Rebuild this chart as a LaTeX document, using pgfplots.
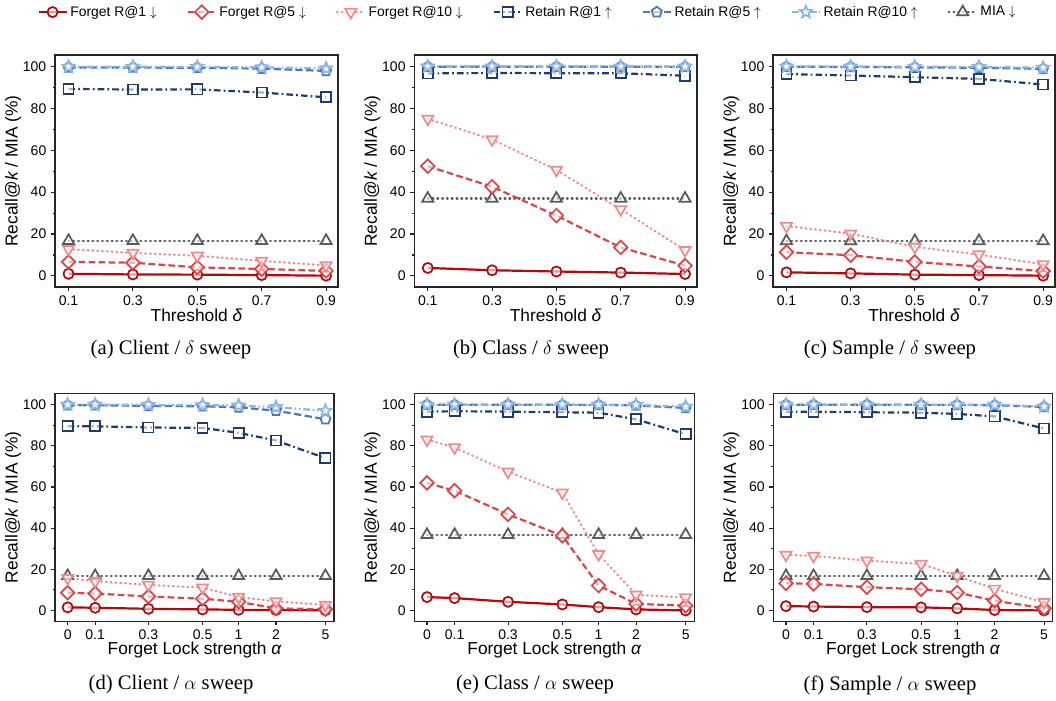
\documentclass[border=0pt]{standalone}
\usepackage{fontspec}
\setmainfont{Liberation Sans}
\newfontfamily\capfont{Liberation Serif}
\usepackage{pgfplots}
\usepackage{pgfplotstable}
\pgfplotsset{compat=1.18}
\usetikzlibrary{plotmarks}

\definecolor{cFa}{HTML}{B00A0A}
\definecolor{cFb}{HTML}{D9474A}
\definecolor{cFc}{HTML}{F28A8A}
\definecolor{cRa}{HTML}{1E3A70}
\definecolor{cRb}{HTML}{4A76B8}
\definecolor{cRc}{HTML}{8DB5E6}
\definecolor{cM}{HTML}{5A5A5A}

\pgfdeclareplotmark{fstar}{%
  \pgfpathmoveto{\pgfpointpolar{90}{\pgfplotmarksize}}%
  \pgfpathlineto{\pgfpointpolar{126}{0.45\pgfplotmarksize}}%
  \pgfpathlineto{\pgfpointpolar{162}{\pgfplotmarksize}}%
  \pgfpathlineto{\pgfpointpolar{198}{0.45\pgfplotmarksize}}%
  \pgfpathlineto{\pgfpointpolar{234}{\pgfplotmarksize}}%
  \pgfpathlineto{\pgfpointpolar{270}{0.45\pgfplotmarksize}}%
  \pgfpathlineto{\pgfpointpolar{306}{\pgfplotmarksize}}%
  \pgfpathlineto{\pgfpointpolar{342}{0.45\pgfplotmarksize}}%
  \pgfpathlineto{\pgfpointpolar{18}{\pgfplotmarksize}}%
  \pgfpathlineto{\pgfpointpolar{54}{0.45\pgfplotmarksize}}%
  \pgfpathclose\pgfusepathqfillstroke}

% top row: delta = 0.1 .. 0.9
\pgfplotstableread{
x   fa   fb   fc   ra   rb   rc    mia
0.1 1.0  6.7  12.8 89.3 99.5 99.9  16.8
0.3 0.7  6.3  11.0 89.0 99.5 99.9  16.8
0.5 0.6  4.1  9.6  89.1 99.4 99.8  16.8
0.7 0.4  3.3  7.2  87.6 99.0 99.6  16.8
0.9 0.1  2.4  5.0  85.3 97.9 99.1  16.8
}\tabA
\pgfplotstableread{
x   fa   fb   fc   ra   rb   rc    mia
0.1 3.8  52.4 75.0 96.7 99.9 100.0 37.0
0.3 2.7  42.6 65.2 96.9 99.9 100.0 37.0
0.5 2.1  28.8 50.6 96.8 99.9 100.0 37.0
0.7 1.6  13.6 31.8 96.8 99.9 100.0 37.0
0.9 0.9  4.9  12.3 95.6 99.8 100.0 37.0
}\tabB
\pgfplotstableread{
x   fa   fb   fc   ra   rb   rc    mia
0.1 1.7  11.3 23.8 96.4 99.9 100.0 16.7
0.3 1.2  9.9  20.2 95.7 99.8 100.0 16.7
0.5 0.6  6.7  13.9 94.9 99.6 99.9  16.7
0.7 0.4  4.5  10.2 94.1 99.4 99.8  16.7
0.9 0.1  2.3  5.5  91.4 98.9 99.4  16.7
}\tabC
% bottom row: alpha = 0, 0.1, 0.3, 0.5, 1, 2, 5 (plotted at tick positions)
\pgfplotstableread{
x    fa   fb   fc   ra   rb   rc    mia
0    1.5  8.6  15.7 89.5 99.7 100.0 16.8
0.64 1.3  8.2  14.2 89.5 99.7 100.0 16.8
1.88 0.8  6.8  12.4 88.9 99.4 99.9  16.8
3.14 0.5  5.7  11.1 88.7 99.2 99.8  16.8
3.98 0.3  4.2  6.5  86.3 98.7 99.6  16.8
4.85 0.2  1.0  4.4  82.6 97.1 98.8  16.8
6    0.1  0.6  2.7  74.0 92.9 97.0  16.8
}\tabD
\pgfplotstableread{
x    fa   fb   fc   ra   rb    rc    mia
0    6.5  62.0 83.0 96.6 100.0 100.0 36.8
0.64 6.0  58.2 79.2 96.8 100.0 100.0 36.8
1.88 4.2  46.7 67.4 96.6 100.0 100.0 36.8
3.14 2.9  36.3 57.2 96.3 99.9  100.0 36.8
3.98 1.6  12.1 27.3 96.1 99.9  100.0 36.8
4.85 0.5  3.2  7.6  92.9 99.6  99.9  36.8
6    0.0  2.3  6.3  85.6 98.4  99.0  36.8
}\tabE
\pgfplotstableread{
x    fa   fb   fc   ra   rb    rc    mia
0    2.1  13.2 27.0 96.6 100.0 100.0 16.8
0.64 1.9  12.9 26.5 96.6 100.0 100.0 16.8
1.88 1.6  11.3 24.2 96.3 100.0 100.0 16.8
3.14 1.5  10.3 22.6 96.1 99.9  100.0 16.8
3.98 1.0  8.7  16.8 95.5 99.9  100.0 16.8
4.85 0.2  4.7  10.5 94.3 99.7  99.9  16.8
6    0.0  1.1  4.0  88.4 98.9  99.1  16.8
}\tabF

\pgfplotsset{
  panel/.style={
    scale only axis, anchor=north west,
    ymin=-5.3, ymax=105.5, ytick={0,20,40,60,80,100}, minor y tick num=1,
    tick align=outside, tick pos=left,
    major tick length=3pt, minor tick length=1.8pt,
    axis line style={black!85, line width=0.9pt},
    every tick/.style={black!85, line width=0.8pt},
    tick label style={font=\fontsize{10.5}{12}\selectfont},
    label style={font=\fontsize{13}{15}\selectfont},
    /pgf/number format/assume math mode=true,
    ylabel={Recall@{\itshape k} / MIA (\%)},
  },
  toprow/.style={panel, height=174pt,
    xmin=0.058, xmax=0.937,
    xtick={0.1,0.3,0.5,0.7,0.9}, xticklabels={0.1,0.3,0.5,0.7,0.9},
    xlabel={Threshold {\itshape δ}},
    ylabel style={at={(axis description cs:-0.148,0.5)}, anchor=center},
    xlabel style={at={(axis description cs:0.5,-0.121)}, anchor=center},
  },
  botrow/.style={panel, height=171pt,
    xmin=-0.295, xmax=6.2,
    xtick={0,0.64,1.88,3.14,3.98,4.85,6}, xticklabels={0,0.1,0.3,0.5,1,2,5},
    xlabel={Forget Lock strength {\itshape α}},
    ylabel style={at={(axis description cs:-0.15,0.5)}, anchor=center},
    xlabel style={at={(axis description cs:0.5,-0.127)}, anchor=center},
  },
  mk/.style={mark options={solid, fill=white, fill opacity=0.6, line width=1.3pt, #1}},
  mk/.default={},
  sFa/.style={cFa, solid, line width=1.65pt, mark=*, mark size=3.8pt, mk},
  sFb/.style={cFb, line width=1.65pt, dash pattern=on 5pt off 2.5pt, mark=square*, mark size=3.6pt, mk={rotate=45}},
  sFc/.style={cFc, line width=1.65pt, line cap=round, dash pattern=on 0.6pt off 3pt, mark=triangle*, mark size=4.8pt, mk={rotate=180}},
  sRa/.style={cRa, line width=1.65pt, dash pattern=on 5pt off 2.3pt on 1.3pt off 2.3pt, mark=square*, mark size=3.8pt, mk},
  sRb/.style={cRb, line width=1.65pt, dash pattern=on 5.5pt off 2.6pt, mark=pentagon*, mark size=4pt, mk},
  sRc/.style={cRc, line width=1.65pt, dash pattern=on 5pt off 2pt on 1.3pt off 2pt on 1.3pt off 2pt, mark=fstar, mark size=4.8pt, mk},
  sM/.style={cM, line width=1.65pt, line cap=round, dash pattern=on 0.6pt off 3pt, mark=triangle*, mark size=4.8pt, mk},
}

\newcommand\series[1]{%
  \addplot[sM]  table[x=x,y=mia]{#1};
  \addplot[sFa] table[x=x,y=fa]{#1};
  \addplot[sFb] table[x=x,y=fb]{#1};
  \addplot[sFc] table[x=x,y=fc]{#1};
  \addplot[sRa] table[x=x,y=ra]{#1};
  \addplot[sRb] table[x=x,y=rb]{#1};
  \addplot[sRc] table[x=x,y=rc]{#1};
}

\begin{document}
\begin{tikzpicture}
\useasboundingbox (0,0) rectangle (792pt,-525pt);

% (a)
\begin{axis}[toprow, at={(41.25pt,-41.25pt)}, width=212.25pt,
  legend columns=7,
  legend style={at={(axis description cs:1.671,1.185)}, anchor=center,
    draw=none, fill=none, font=\fontsize{10.4}{12}\selectfont,
    /tikz/every even column/.append style={column sep=20.5pt}},
  legend image code/.code={\draw[mark repeat=2,mark phase=2] plot coordinates {(0pt,0pt) (10.5pt,0pt) (21pt,0pt)};},
]
\addlegendimage{sFa}\addlegendentry{Forget R@1 $\downarrow$}
\addlegendimage{sFb}\addlegendentry{Forget R@5 $\downarrow$}
\addlegendimage{sFc}\addlegendentry{Forget R@10 $\downarrow$}
\addlegendimage{sRa}\addlegendentry{Retain R@1 $\uparrow$}
\addlegendimage{sRb}\addlegendentry{Retain R@5 $\uparrow$}
\addlegendimage{sRc}\addlegendentry{Retain R@10 $\uparrow$}
\addlegendimage{sM}\addlegendentry{MIA $\downarrow$}
\series{\tabA}
\end{axis}

% (b)
\begin{axis}[toprow, at={(310.7pt,-41.25pt)}, width=212pt]
\series{\tabB}
\end{axis}

% (c)
\begin{axis}[toprow, at={(579.75pt,-41.25pt)}, width=211.5pt]
\series{\tabC}
\end{axis}

% (d)
\begin{axis}[botrow, at={(41.25pt,-295pt)}, width=209.25pt]
\series{\tabD}
\end{axis}

% (e)
\begin{axis}[botrow, at={(310.7pt,-295pt)}, width=210pt]
\series{\tabE}
\end{axis}

% (f)
\begin{axis}[botrow, at={(580pt,-295pt)}, width=209.5pt]
\series{\tabF}
\end{axis}

\begin{scope}[every node/.style={font=\capfont\fontsize{15.5}{18}\selectfont}]
\node at (128.25pt,-262.5pt) {(a) Client / $\delta$ sweep};
\node at (398.25pt,-262.5pt) {(b) Class / $\delta$ sweep};
\node at (667.5pt,-262.5pt) {(c) Sample / $\delta$ sweep};
\node at (128.25pt,-513.75pt) {(d) Client / $\alpha$ sweep};
\node at (401.25pt,-513.75pt) {(e) Class / $\alpha$ sweep};
\node at (667.5pt,-513.75pt) {(f) Sample / $\alpha$ sweep};
\end{scope}
\end{tikzpicture}
\end{document}
